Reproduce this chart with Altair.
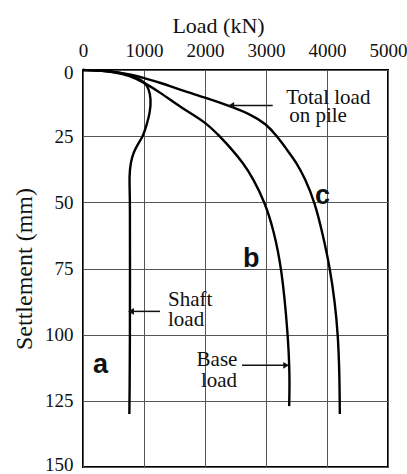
import altair as alt
import pandas as pd

# ---- data ----
shaft_load = [0, 250, 500, 700, 850, 1000, 1080, 1115, 1100, 1040, 985, 900, 830, 780, 760, 765, 770, 770, 770, 765, 760]
shaft_settle = [0, 0.2, 0.6, 1.5, 2.7, 4.3, 7, 11, 16, 21, 25, 28, 31, 35, 40, 45, 50, 75, 100, 120, 130]

base_load = [0, 250, 500, 750, 1000, 1300, 1590, 2000, 2240, 2440, 2620, 2790, 2980, 3120, 3260, 3360, 3390, 3380]
base_settle = [0, 0.2, 0.7, 2.0, 4.7, 9, 14, 19.5, 25, 30, 35, 41, 50, 60, 75, 100, 115, 127]

total_load = [0, 250, 500, 800, 1000, 1300, 1600, 2000, 2400, 2750, 3000, 3180, 3340, 3500, 3640, 3800, 3930, 4050, 4130, 4180, 4205, 4210]
total_settle = [0, 0.2, 0.6, 1.8, 3.0, 5.0, 7.6, 10.4, 13.6, 16.8, 20.3, 25, 30, 35, 41, 50, 62, 75, 88, 100, 115, 130]

x_ticks = [0, 1000, 2000, 3000, 4000, 5000]
y_ticks = [0, 25, 50, 75, 100, 125, 150]

# annotation texts (serif)
note_text = ["Total load", "on pile", "Shaft", "load", "Base", "load"]
note_x = [3330, 3380, 1393, 1393, 2197, 2230]
note_y = [13.0, 19.8, 89.0, 96.9, 112.0, 119.6]
note_align = ["left", "left", "left", "left", "center", "center"]

# curve letters (bold sans)
letter_text = ["a", "b", "c"]
letter_x = [164, 2623, 3803]
letter_y = [114.3, 74.6, 50.8]

# arrows: start, end (head), settlement level
arrow_x1 = [3110, 1262, 2607]
arrow_x2 = [2430, 787, 3330]
arrow_y = [13.4, 91.2, 111.6]
arrow_shape = ["triangle-left", "triangle-left", "triangle-right"]

rows = []
for name, xs, ys in [("shaft", shaft_load, shaft_settle),
                     ("base", base_load, base_settle),
                     ("total", total_load, total_settle)]:
    for i, (a, b) in enumerate(zip(xs, ys)):
        rows.append({"series": name, "load": a, "settle": b, "i": i})
curves = pd.DataFrame(rows)

notes = pd.DataFrame({"t": note_text, "x": note_x, "y": note_y, "al": note_align})
letters = pd.DataFrame({"t": letter_text, "x": letter_x, "y": letter_y})
arrows = pd.DataFrame({"x1": arrow_x1, "x2": arrow_x2, "y": arrow_y, "shape": arrow_shape})

SERIF = "Liberation Serif, Times New Roman, serif"

xscale = alt.Scale(domain=[0, 5000], nice=False, zero=False)
yscale = alt.Scale(domain=[0, 150], reverse=True, nice=False, zero=False)

xaxis = alt.Axis(orient="top", values=x_ticks, title="Load (kN)", ticks=False,
                 labelPadding=10, labelFont=SERIF, labelFontSize=19, labelColor="#111",
                 titleFont=SERIF, titleFontSize=22, titleFontWeight="normal", titleColor="#111",
                 titleX=135, titleY=-45, titleBaseline="middle", titleAlign="center",
                 grid=True, gridColor="#555", gridWidth=1, domain=False, format="d",
                 labelFlush=False)
yaxis = alt.Axis(values=y_ticks, title="Settlement (mm)", ticks=False,
                 labelPadding=10, labelFont=SERIF, labelFontSize=19, labelColor="#111",
                 labelFlush=True, labelFlushOffset=7,
                 titleFont=SERIF, titleFontSize=24, titleFontWeight="normal", titleColor="#111",
                 titleX=-59, titleBaseline="middle", titleAngle=-90,
                 grid=True, gridColor="#555", gridWidth=1, domain=False, format="d")

lines = alt.Chart(curves).mark_line(color="black", strokeWidth=2.4, interpolate="basis").encode(
    x=alt.X("load:Q", scale=xscale, axis=xaxis),
    y=alt.Y("settle:Q", scale=yscale, axis=yaxis),
    detail="series:N",
    order="i:Q",
)

note_layers = []
for al in ["left", "center"]:
    note_layers.append(
        alt.Chart(notes[notes["al"] == al]).mark_text(
            font=SERIF, fontSize=21, align=al, baseline="alphabetic", color="#111"
        ).encode(x=alt.X("x:Q", scale=xscale), y=alt.Y("y:Q", scale=yscale), text="t:N")
    )

letter_layer = alt.Chart(letters).mark_text(
    font="Liberation Sans", fontWeight="bold", fontSize=27, align="left",
    baseline="alphabetic", color="#111"
).encode(x=alt.X("x:Q", scale=xscale), y=alt.Y("y:Q", scale=yscale), text="t:N")

arrow_lines = alt.Chart(arrows).mark_rule(color="#111", strokeWidth=1.5).encode(
    x=alt.X("x1:Q", scale=xscale), x2="x2:Q", y=alt.Y("y:Q", scale=yscale)
)
arrow_heads = alt.Chart(arrows).mark_point(filled=True, color="#111", size=45, opacity=1).encode(
    x=alt.X("x2:Q", scale=xscale), y=alt.Y("y:Q", scale=yscale),
    shape=alt.Shape("shape:N", scale=None, legend=None)
)

chart = alt.layer(lines, *note_layers, letter_layer, arrow_lines, arrow_heads).properties(
    width=305, height=397,
    autosize=alt.AutoSizeParams(type="none"),
    padding={"left": 83, "top": 70, "right": 19, "bottom": 7},
    background="white",
).configure_view(stroke="black", strokeWidth=2)

chart.save("out.html", embed_options={"renderer": "svg", "actions": False})
